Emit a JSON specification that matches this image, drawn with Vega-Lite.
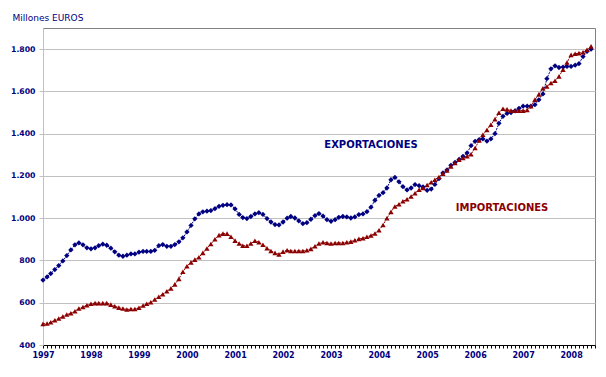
{
  "$schema": "https://vega.github.io/schema/vega-lite/v6.json",
  "width": 552,
  "height": 317,
  "autosize": {"type": "none"},
  "padding": {"left": 43, "top": 28, "right": 11, "bottom": 32},
  "background": "white",
  "config": {
    "view": {"stroke": "#808080", "strokeWidth": 1},
    "font": "DejaVu Sans"
  },
  "datasets": {
    "series": [
      {"d": "1997-01", "exp": 707, "imp": 500}, {"d": "1997-02", "exp": 722, "imp": 502}, {"d": "1997-03", "exp": 738, "imp": 508}, {"d": "1997-04", "exp": 757, "imp": 517}, {"d": "1997-05", "exp": 776, "imp": 525}, {"d": "1997-06", "exp": 798, "imp": 535}, {"d": "1997-07", "exp": 823, "imp": 544}, {"d": "1997-08", "exp": 850, "imp": 550}, {"d": "1997-09", "exp": 874, "imp": 560}, {"d": "1997-10", "exp": 883, "imp": 573}, {"d": "1997-11", "exp": 874, "imp": 580}, {"d": "1997-12", "exp": 860, "imp": 588},
      {"d": "1998-01", "exp": 855, "imp": 595}, {"d": "1998-02", "exp": 860, "imp": 598}, {"d": "1998-03", "exp": 870, "imp": 598}, {"d": "1998-04", "exp": 877, "imp": 598}, {"d": "1998-05", "exp": 872, "imp": 598}, {"d": "1998-06", "exp": 858, "imp": 591}, {"d": "1998-07", "exp": 841, "imp": 583}, {"d": "1998-08", "exp": 825, "imp": 577}, {"d": "1998-09", "exp": 820, "imp": 573}, {"d": "1998-10", "exp": 825, "imp": 568}, {"d": "1998-11", "exp": 831, "imp": 570}, {"d": "1998-12", "exp": 831, "imp": 570},
      {"d": "1999-01", "exp": 839, "imp": 576}, {"d": "1999-02", "exp": 843, "imp": 587}, {"d": "1999-03", "exp": 843, "imp": 595}, {"d": "1999-04", "exp": 843, "imp": 602}, {"d": "1999-05", "exp": 848, "imp": 615}, {"d": "1999-06", "exp": 870, "imp": 628}, {"d": "1999-07", "exp": 875, "imp": 640}, {"d": "1999-08", "exp": 867, "imp": 654}, {"d": "1999-09", "exp": 867, "imp": 668}, {"d": "1999-10", "exp": 875, "imp": 687}, {"d": "1999-11", "exp": 888, "imp": 713}, {"d": "1999-12", "exp": 907, "imp": 747},
      {"d": "2000-01", "exp": 935, "imp": 773}, {"d": "2000-02", "exp": 966, "imp": 791}, {"d": "2000-03", "exp": 997, "imp": 804}, {"d": "2000-04", "exp": 1020, "imp": 815}, {"d": "2000-05", "exp": 1030, "imp": 836}, {"d": "2000-06", "exp": 1033, "imp": 857}, {"d": "2000-07", "exp": 1036, "imp": 878}, {"d": "2000-08", "exp": 1045, "imp": 900}, {"d": "2000-09", "exp": 1056, "imp": 920}, {"d": "2000-10", "exp": 1061, "imp": 927}, {"d": "2000-11", "exp": 1064, "imp": 927}, {"d": "2000-12", "exp": 1063, "imp": 912},
      {"d": "2001-01", "exp": 1044, "imp": 894}, {"d": "2001-02", "exp": 1018, "imp": 880}, {"d": "2001-03", "exp": 1003, "imp": 870}, {"d": "2001-04", "exp": 998, "imp": 870}, {"d": "2001-05", "exp": 1008, "imp": 880}, {"d": "2001-06", "exp": 1020, "imp": 893}, {"d": "2001-07", "exp": 1026, "imp": 886}, {"d": "2001-08", "exp": 1018, "imp": 874}, {"d": "2001-09", "exp": 998, "imp": 858}, {"d": "2001-10", "exp": 982, "imp": 845}, {"d": "2001-11", "exp": 970, "imp": 836}, {"d": "2001-12", "exp": 968, "imp": 829},
      {"d": "2002-01", "exp": 982, "imp": 842}, {"d": "2002-02", "exp": 1000, "imp": 848}, {"d": "2002-03", "exp": 1008, "imp": 845}, {"d": "2002-04", "exp": 1001, "imp": 845}, {"d": "2002-05", "exp": 987, "imp": 845}, {"d": "2002-06", "exp": 974, "imp": 845}, {"d": "2002-07", "exp": 979, "imp": 848}, {"d": "2002-08", "exp": 995, "imp": 855}, {"d": "2002-09", "exp": 1012, "imp": 867}, {"d": "2002-10", "exp": 1022, "imp": 880}, {"d": "2002-11", "exp": 1010, "imp": 886}, {"d": "2002-12", "exp": 993, "imp": 883},
      {"d": "2003-01", "exp": 985, "imp": 880}, {"d": "2003-02", "exp": 993, "imp": 883}, {"d": "2003-03", "exp": 1004, "imp": 883}, {"d": "2003-04", "exp": 1008, "imp": 883}, {"d": "2003-05", "exp": 1006, "imp": 886}, {"d": "2003-06", "exp": 1001, "imp": 889}, {"d": "2003-07", "exp": 1006, "imp": 896}, {"d": "2003-08", "exp": 1017, "imp": 902}, {"d": "2003-09", "exp": 1020, "imp": 905}, {"d": "2003-10", "exp": 1031, "imp": 912}, {"d": "2003-11", "exp": 1052, "imp": 918}, {"d": "2003-12", "exp": 1085, "imp": 928},
      {"d": "2004-01", "exp": 1108, "imp": 943}, {"d": "2004-02", "exp": 1121, "imp": 968}, {"d": "2004-03", "exp": 1143, "imp": 1000}, {"d": "2004-04", "exp": 1182, "imp": 1030}, {"d": "2004-05", "exp": 1193, "imp": 1055}, {"d": "2004-06", "exp": 1172, "imp": 1066}, {"d": "2004-07", "exp": 1149, "imp": 1080}, {"d": "2004-08", "exp": 1134, "imp": 1090}, {"d": "2004-09", "exp": 1143, "imp": 1103}, {"d": "2004-10", "exp": 1159, "imp": 1118}, {"d": "2004-11", "exp": 1154, "imp": 1135}, {"d": "2004-12", "exp": 1148, "imp": 1143},
      {"d": "2005-01", "exp": 1132, "imp": 1157}, {"d": "2005-02", "exp": 1138, "imp": 1170}, {"d": "2005-03", "exp": 1160, "imp": 1182}, {"d": "2005-04", "exp": 1187, "imp": 1195}, {"d": "2005-05", "exp": 1214, "imp": 1211}, {"d": "2005-06", "exp": 1228, "imp": 1226}, {"d": "2005-07", "exp": 1250, "imp": 1245}, {"d": "2005-08", "exp": 1264, "imp": 1261}, {"d": "2005-09", "exp": 1278, "imp": 1277}, {"d": "2005-10", "exp": 1293, "imp": 1285}, {"d": "2005-11", "exp": 1309, "imp": 1293}, {"d": "2005-12", "exp": 1343, "imp": 1303},
      {"d": "2006-01", "exp": 1364, "imp": 1332}, {"d": "2006-02", "exp": 1372, "imp": 1368}, {"d": "2006-03", "exp": 1375, "imp": 1395}, {"d": "2006-04", "exp": 1365, "imp": 1418}, {"d": "2006-05", "exp": 1375, "imp": 1442}, {"d": "2006-06", "exp": 1400, "imp": 1468}, {"d": "2006-07", "exp": 1449, "imp": 1499}, {"d": "2006-08", "exp": 1482, "imp": 1518}, {"d": "2006-09", "exp": 1496, "imp": 1515}, {"d": "2006-10", "exp": 1500, "imp": 1509}, {"d": "2006-11", "exp": 1508, "imp": 1509}, {"d": "2006-12", "exp": 1520, "imp": 1509},
      {"d": "2007-01", "exp": 1530, "imp": 1509}, {"d": "2007-02", "exp": 1530, "imp": 1512}, {"d": "2007-03", "exp": 1530, "imp": 1530}, {"d": "2007-04", "exp": 1537, "imp": 1561}, {"d": "2007-05", "exp": 1560, "imp": 1586}, {"d": "2007-06", "exp": 1588, "imp": 1615}, {"d": "2007-07", "exp": 1660, "imp": 1623}, {"d": "2007-08", "exp": 1707, "imp": 1640}, {"d": "2007-09", "exp": 1721, "imp": 1650}, {"d": "2007-10", "exp": 1713, "imp": 1671}, {"d": "2007-11", "exp": 1715, "imp": 1703}, {"d": "2007-12", "exp": 1718, "imp": 1737},
      {"d": "2008-01", "exp": 1718, "imp": 1773}, {"d": "2008-02", "exp": 1724, "imp": 1778}, {"d": "2008-03", "exp": 1731, "imp": 1781}, {"d": "2008-04", "exp": 1765, "imp": 1785}, {"d": "2008-05", "exp": 1789, "imp": 1797}, {"d": "2008-06", "exp": 1800, "imp": 1813}
    ],
    "labels": [
      {"d": "2003-11-01", "v": 1346, "serie": "exp", "t": "EXPORTACIONES"},
      {"d": "2006-07-25", "v": 1046, "serie": "imp", "t": "IMPORTACIONES"}
    ]
  },
  "layer": [
    {
      "data": {"name": "series"},
      "transform": [{"fold": ["exp", "imp"], "as": ["serie", "v"]}],
      "encoding": {
        "x": {
          "field": "d", "type": "temporal",
          "scale": {"type": "utc", "domain": [{"year": 1997, "month": 1, "date": 1, "utc": true}, {"year": 2008, "month": 7, "date": 1, "utc": true}]},
          "axis": {
            "title": null,
            "tickCount": {"interval": "month", "step": 1},
            "labelExpr": "utcmonth(datum.value) == 0 ? utcFormat(datum.value, '%Y') : ''",
            "labelOverlap": false, "labelFlush": false, "labelBound": false,
            "grid": false,
            "domainColor": "#000000", "tickColor": "#000000", "tickSize": 3,
            "labelColor": "#000080", "labelFontWeight": "bold", "labelFontSize": 8, "labelPadding": 3,
            "labelFont": "DejaVu Sans"
          }
        },
        "y": {
          "field": "v", "type": "quantitative",
          "scale": {"domain": [400, 1900], "nice": false, "zero": false},
          "axis": {
            "values": [400, 600, 800, 1000, 1200, 1400, 1600, 1800],
            "labelExpr": "replace(format(datum.value, ','), ',', '.')",
            "title": "Millones EUROS",
            "titleAngle": 0, "titleX": -31, "titleY": -11,
            "titleAlign": "left", "titleBaseline": "middle",
            "titleFontWeight": "normal", "titleFontSize": 9, "titleColor": "#000080", "titleFont": "DejaVu Sans",
            "gridColor": "#c0c0c0", "domainColor": "#c0c0c0", "tickColor": "#c0c0c0", "tickSize": 4,
            "labelPadding": 4, "labelColor": "#000080", "labelFontWeight": "bold", "labelFontSize": 7.75,
            "labelFont": "DejaVu Sans"
          }
        },
        "color": {"field": "serie", "type": "nominal", "scale": {"domain": ["exp", "imp"], "range": ["#000080", "#8b0000"]}, "legend": null}
      },
      "layer": [
        {"mark": {"type": "line", "strokeWidth": 1, "strokeDash": [2, 1]}},
        {
          "mark": {"type": "point", "filled": true, "size": 28, "opacity": 1},
          "encoding": {
            "shape": {"field": "serie", "type": "nominal", "scale": {"domain": ["exp", "imp"], "range": ["diamond", "triangle-up"]}, "legend": null}
          }
        }
      ]
    },
    {
      "data": {"name": "labels"},
      "mark": {"type": "text", "fontWeight": "bold", "fontSize": 10, "font": "DejaVu Sans", "align": "center", "baseline": "middle"},
      "encoding": {
        "x": {"field": "d", "type": "temporal"},
        "y": {"field": "v", "type": "quantitative"},
        "text": {"field": "t"},
        "color": {"field": "serie", "type": "nominal", "legend": null}
      }
    }
  ]
}
